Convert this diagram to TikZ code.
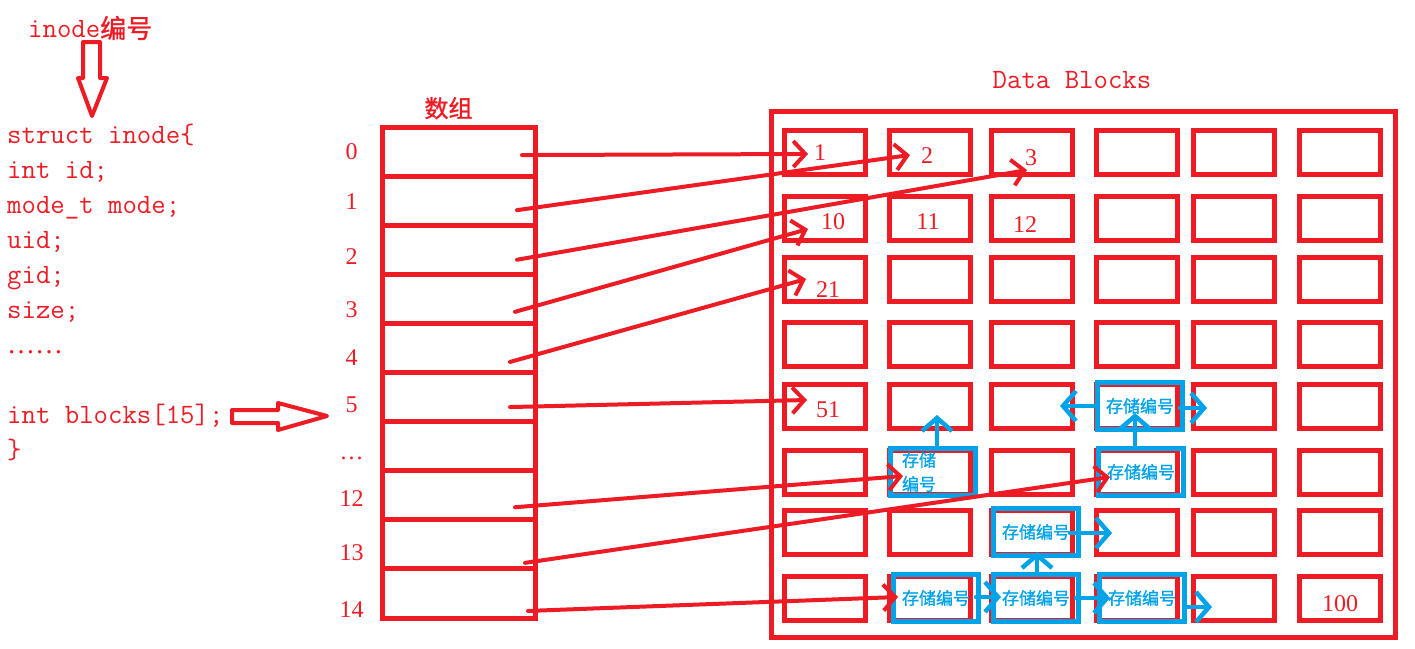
\documentclass[tikz,border=0pt]{standalone}
\usepackage{fontspec}
\setmainfont{Liberation Serif}
\newfontfamily\cjk{Noto Sans CJK SC}
\newfontfamily\cjkbold{Noto Sans CJK SC}[FakeBold=1.2]
\usepackage{tikz}
\usetikzlibrary{arrows.meta, positioning, calc}
\definecolor{paintred}{RGB}{237,28,36}
\definecolor{paintblue}{RGB}{0,162,232}
\tikzset{
  %% ---- boxes ----
  slotbox/.style  = {rectangle, draw=paintred, line width=5pt,
                     minimum width=153pt, minimum height=49.1pt, inner sep=0pt},
  blk/.style      = {rectangle, draw=paintred, line width=5pt,
                     minimum width=81pt, minimum height=44pt, inner sep=0pt},
  storebox/.style = {rectangle, draw=paintblue, line width=5pt,
                     minimum width=85pt, minimum height=47pt, inner sep=1pt,
                     text=paintblue, font=\cjkbold\fontsize{17}{24}\selectfont},
  area/.style     = {rectangle, draw=paintred, line width=5pt,
                     minimum width=624pt, minimum height=526pt, inner sep=0pt},
  hollow/.style   = {draw=paintred, line width=4pt, line join=round, fill=white},
  %% ---- texts ----
  num/.style      = {text=paintred, inner sep=0pt, font=\fontsize{24}{28}\selectfont},
  code/.style     = {text=paintred, inner sep=0pt, align=left,
                     font=\ttfamily\addfontfeatures{FakeBold=1.3}\fontsize{28}{35}\selectfont},
  %% ---- arrows ----
  redarrow/.style = {-{Straight Barb[length=12pt,width=26pt]}, line width=4pt,
                     draw=paintred, line cap=round},
  bluearrow/.style= {-{Straight Barb[length=13pt,width=30pt]}, line width=4.5pt,
                     draw=paintblue, line cap=round},
}

\begin{document}
\begin{tikzpicture}[x=1pt, y=-1pt]
  \useasboundingbox (0,0) rectangle (1415,648);

  %% inode struct
  \node[code, anchor=west] (title) at (28,28)
    {inode{\cjkbold\fontsize{26}{28}\selectfont 编号}};
  \draw[hollow] (83,42) -- (100,42) -- (100,78) -- (107,78) -- (92,116)
    -- (78,78) -- (83,78) -- cycle;
  \node[code, anchor=north west] (inode) at (7,124)
    {struct inode\{\\int id;\\mode\_t mode;\\uid;\\gid;\\size;\\
     {\rmfamily ……}\\[35pt]int blocks[15];\\\}};
  \draw[hollow] (232,410) -- (278,410) -- (278,403) -- (327,416) -- (278,430)
    -- (278,423) -- (232,423) -- cycle;

  %% array
  \foreach \k/\nm/\lab/\dy in {0/0/0/0, 1/1/1/1, 2/2/2/7, 3/3/3/11, 4/4/4/10,
      5/5/5/8, 6/dots/…/12, 7/12/12/3, 8/13/13/8, 9/14/14/16} {
    \node[slotbox] (slot\nm) at (458.5,{151.55+49.1*\k}) {};
    \node[num] (idx\nm) at ($(slot\nm.west)+(-28,\dy)$) {\lab};
  }
  \node[num, font=\cjkbold\fontsize{24}{28}\selectfont, above=5pt of slot0,
        xshift=-10pt] (arrtitle) {数组};

  %% data blocks
  \node[area] (blocks) at (1083.5,374.5) {};
  \node[code] (dbtitle) at (1072,80) {Data Blocks};
  \foreach \r/\yy in {1/152, 2/218, 3/279, 4/344, 5/406, 6/472, 7/532, 8/598}
    \foreach \c/\xx in {1/825, 2/930, 3/1032, 4/1137, 5/1234, 6/1340}
      \node[blk] (b\r\c) at (\xx,\yy) {};

  \node[num] (n1)   at ($(b11)+(-5,1)$)  {1};
  \node[num] (n2)   at ($(b12)+(-3,4)$)  {2};
  \node[num] (n3)   at ($(b13)+(-1,6)$)  {3};
  \node[num] (n10)  at ($(b21)+(8,4)$)   {10};
  \node[num] (n11)  at ($(b22)+(-2,4)$)  {11};
  \node[num] (n12)  at ($(b23)+(-7,7)$)  {12};
  \node[num] (n21)  at ($(b31)+(3,11)$)  {21};
  \node[num] (n51)  at ($(b51)+(3,4)$)   {51};
  \node[num] (n100) at ($(b86)+(0,6)$)   {100};

  %% stored block numbers
  \node[storebox] (st1) at (1140,406) {存储编号};
  \node[storebox, text width=62pt, align=left] (st2) at (933,472) {存储\\编号};
  \node[storebox] (st3) at (1141,472) {存储编号};
  \node[storebox] (st4) at (1036,532) {存储编号};
  \node[storebox] (st5) at (936,598)  {存储编号};
  \node[storebox] (st6) at (1036,598) {存储编号};
  \node[storebox] (st7) at (1142,598) {存储编号};

  %% pointers from the array
  \foreach \from/\fx/\fy/\to/\tx/\ty in {
      slot0/63.5/3.5/b11/-17/2,   slot1/58.5/9.5/b12/-20/3,
      slot2/58.5/10/b13/-5/18,    slot3/56.5/13/b21/-17/11,
      slot4/51.5/14/b31/-19/0,    slot5/51.5/10/b51/-18/-6,
      slot12/56.5/12/st2/-30/4,   slot13/66.5/18.5/st3/-31/5,
      slot14/69.5/17.5/st5/-38/-1}
    \draw[redarrow] ($(\from)+(\fx,\fy)$) -- ($(\to)+(\tx,\ty)$);

  \draw[bluearrow] ($(st2.north)+(4,0)$) -- ($(b52)+(7,9)$);
  \draw[bluearrow] (st1.west) -- ($(b53)+(28,0)$);
  \draw[bluearrow] ($(st1.east)+(-5,2)$) -- ($(b55)+(-27,2)$);
  \draw[bluearrow] ($(st3.north)+(-6,0)$) -- ($(st1)+(-5,7)$);
  \draw[bluearrow] ($(st6.north)+(1,0)$) -- ($(st4.south)+(1,-6)$);
  \draw[bluearrow] ($(st4)+(34,1)$) -- ($(b74)+(-25,1)$);
  \draw[bluearrow] ($(st5.east)+(-5,-1)$) -- ($(st6.west)+(10,-1)$);
  \draw[bluearrow] ($(st6.east)+(-5,0)$) -- ($(st7.west)+(13,0)$);
  \draw[bluearrow] ($(st7.east)+(-2,9)$) -- ($(b85)+(-22,9)$);

\end{tikzpicture}
\end{document}
